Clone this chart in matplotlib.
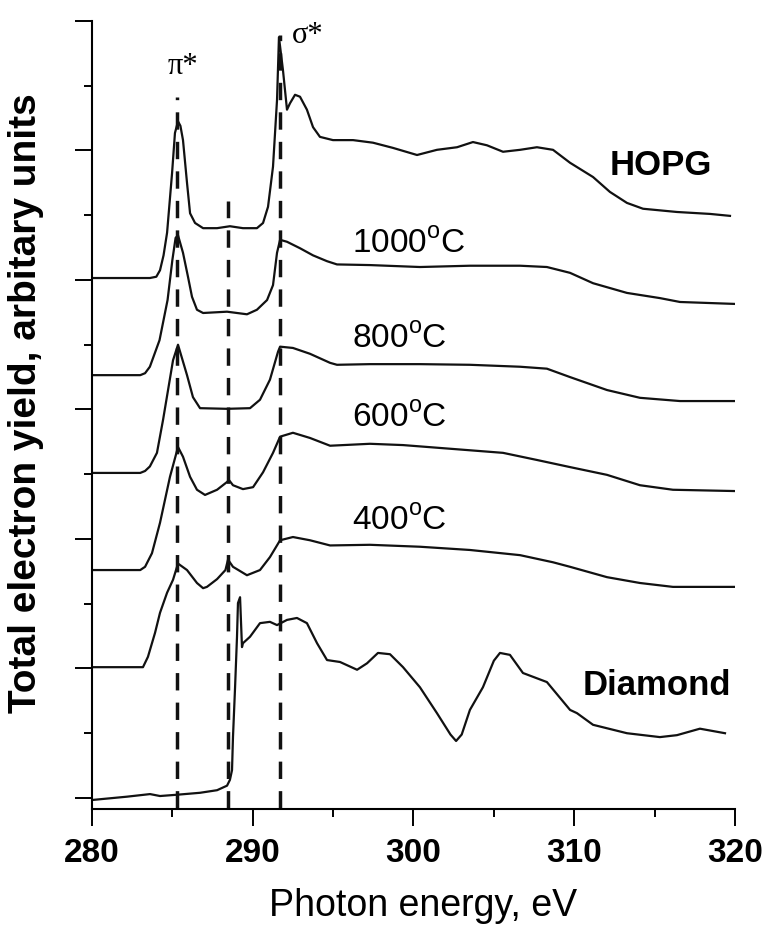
import numpy as np
import matplotlib
matplotlib.use("Agg")
import matplotlib.pyplot as plt
from matplotlib.ticker import MultipleLocator

plt.rcParams['font.family'] = ['Liberation Sans', 'DejaVu Sans']

# photon energy (eV) and offset intensity (arb. units)
hopg_e = [280.0, 283.6, 284.0, 284.23, 284.45, 284.67, 284.98, 285.16, 285.35, 285.5,
          285.66, 285.91, 286.10, 286.41, 286.91, 287.78, 288.58, 289.39, 290.26, 290.64,
          290.95, 291.26, 291.51, 291.63, 291.88, 292.13, 292.32, 292.63, 292.94, 293.37,
          293.75, 294.18, 294.99, 296.24, 297.48, 298.72, 300.22, 301.46, 302.71, 303.70,
          304.57, 305.57, 306.63, 307.68, 308.68, 309.74, 311.17, 312.22, 313.28, 314.28,
          316.39, 318.45, 319.69]
hopg_y = [8.03, 8.03, 8.05, 8.15, 8.38, 8.73, 9.65, 10.27, 10.45, 10.38,
          10.16, 9.50, 9.03, 8.88, 8.80, 8.80, 8.83, 8.80, 8.80, 8.88,
          9.13, 9.75, 10.78, 11.75, 11.24, 10.63, 10.73, 10.86, 10.83, 10.63,
          10.36, 10.21, 10.16, 10.16, 10.12, 10.04, 9.93, 10.01, 10.05, 10.13,
          10.08, 9.98, 10.01, 10.05, 10.01, 9.81, 9.59, 9.36, 9.19, 9.10,
          9.05, 9.02, 8.99]

t1000_e = [280.0, 283.0, 283.3, 283.6, 284.2, 284.7, 285.0, 285.2, 285.35, 285.66,
           285.97, 286.22, 286.53, 286.91, 288.40, 289.64, 290.26, 290.89, 291.26, 291.51,
           291.70, 292.13, 292.94, 293.75, 294.62, 295.24, 297.29, 300.40, 303.51, 306.63,
           308.30, 309.74, 311.17, 313.28, 315.33, 316.58, 320.0]
t1000_y = [6.53, 6.53, 6.56, 6.66, 7.07, 7.69, 8.31, 8.65, 8.69, 8.42,
           8.05, 7.74, 7.54, 7.49, 7.51, 7.47, 7.54, 7.69, 7.92, 8.42,
           8.62, 8.59, 8.49, 8.38, 8.29, 8.24, 8.23, 8.20, 8.22, 8.22,
           8.20, 8.11, 7.95, 7.80, 7.72, 7.66, 7.63]

t800_e = [280.0, 283.0, 283.3, 283.6, 284.04, 284.42, 284.73, 285.04, 285.35, 285.91,
          286.28, 286.72, 288.40, 289.83, 290.45, 291.07, 291.57, 291.70, 292.50, 293.56,
          294.81, 295.24, 297.29, 300.40, 303.51, 306.63, 308.30, 309.74, 312.04, 314.09,
          316.58, 320.0]
t800_y = [5.02, 5.02, 5.05, 5.12, 5.33, 5.84, 6.30, 6.76, 7.00, 6.53,
          6.19, 6.02, 6.01, 6.02, 6.15, 6.46, 6.89, 6.97, 6.95, 6.86,
          6.72, 6.69, 6.70, 6.70, 6.69, 6.66, 6.63, 6.50, 6.30, 6.18,
          6.13, 6.13]

t600_e = [280.0, 283.0, 283.3, 283.73, 284.23, 284.85, 285.35, 285.66, 286.10, 286.53,
          287.03, 287.78, 288.40, 288.52, 288.77, 289.39, 290.02, 290.64, 291.26, 291.70,
          292.50, 293.56, 294.81, 297.29, 299.35, 302.46, 305.57, 307.68, 309.74, 312.04,
          314.09, 316.14, 320.0]
t600_y = [3.52, 3.52, 3.57, 3.78, 4.25, 4.96, 5.42, 5.27, 4.96, 4.76,
          4.68, 4.76, 4.88, 4.91, 4.83, 4.77, 4.80, 5.03, 5.33, 5.58,
          5.64, 5.56, 5.44, 5.47, 5.45, 5.39, 5.33, 5.22, 5.11, 4.99,
          4.83, 4.76, 4.74]

t400_e = [280.0, 283.17, 283.48, 283.92, 284.23, 284.67, 285.04, 285.35, 285.91, 286.53,
          286.91, 287.15, 287.78, 288.30, 288.46, 288.77, 289.64, 290.45, 291.07, 291.70,
          292.50, 293.56, 294.81, 297.29, 300.40, 303.51, 306.63, 308.68, 309.74, 312.04,
          314.09, 316.14, 320.0]
t400_y = [2.02, 2.02, 2.18, 2.55, 2.86, 3.17, 3.37, 3.62, 3.52, 3.32,
          3.24, 3.26, 3.38, 3.52, 3.68, 3.57, 3.44, 3.52, 3.72, 3.98,
          4.03, 3.98, 3.90, 3.91, 3.88, 3.83, 3.75, 3.64, 3.57, 3.41,
          3.32, 3.26, 3.26]

diam_e = [280.06, 282.18, 283.61, 284.23, 285.29, 286.72, 287.78, 288.40, 288.58, 288.71,
          288.77, 288.90, 289.02, 289.08, 289.21, 289.33, 289.39, 289.83, 290.45, 291.07,
          291.51, 292.13, 292.75, 293.37, 294.00, 294.62, 295.43, 296.49, 297.11, 297.79,
          298.54, 299.35, 300.40, 301.46, 302.30, 302.65, 303.00, 303.51, 304.32, 305.0,
          305.38, 306.00, 306.81, 308.30, 309.74, 310.17, 311.17, 313.28, 315.33, 316.39,
          317.82, 319.38]
diam_y = [-0.03, 0.02, 0.06, 0.03, 0.05, 0.08, 0.12, 0.19, 0.28, 0.43,
          0.94, 1.71, 2.49, 3.01, 3.10, 2.33, 2.39, 2.49, 2.70, 2.72,
          2.67, 2.75, 2.78, 2.70, 2.39, 2.13, 2.10, 1.98, 2.08, 2.24,
          2.22, 2.02, 1.71, 1.31, 0.98, 0.88, 0.98, 1.36, 1.71, 2.12,
          2.24, 2.21, 1.93, 1.79, 1.36, 1.31, 1.13, 1.00, 0.94, 0.97,
          1.07, 1.00]

# resonance positions: pi*, carboxyl, sigma*
res_e = [285.3, 288.45, 291.7]
res_top = [10.83, 9.22, 11.78]

labels = ['HOPG', '1000$^\\mathregular{o}$C', '800$^\\mathregular{o}$C',
          '600$^\\mathregular{o}$C', '400$^\\mathregular{o}$C', 'Diamond']
label_e = [312.22, 296.17, 296.17, 296.17, 296.17, 310.54]
label_y = [9.62, 8.43, 6.95, 5.73, 4.14, 1.59]
label_bold = [True, False, False, False, False, True]

fig = plt.figure(figsize=(7.7, 9.32), dpi=100)
ax = fig.add_axes([0.1195, 0.132, 0.835, 0.8455])

for e, y in [(hopg_e, hopg_y), (t1000_e, t1000_y), (t800_e, t800_y),
             (t600_e, t600_y), (t400_e, t400_y), (diam_e, diam_y)]:
    ax.plot(e, y, color='#111111', lw=1.6, solid_joinstyle='round')

for e, top in zip(res_e, res_top):
    ax.plot([e, e], [-0.15, top], color='#111111', lw=2.5, dashes=(5, 3.5))

for txt, e, y, b in zip(labels, label_e, label_y, label_bold):
    ax.text(e, y, txt, fontsize=25 if b else 24, fontweight='bold' if b else 'normal',
            ha='left', va='baseline')

ax.text(285.66, 11.29, 'π*', fontsize=22, family=['Liberation Serif', 'DejaVu Serif'],
        ha='center', va='center')
ax.text(293.4, 11.78, 'σ*', fontsize=22, family=['Liberation Serif', 'DejaVu Serif'],
        ha='center', va='center')

ax.set_xlim(280, 320)
ax.set_ylim(-0.17, 12)
ax.xaxis.set_major_locator(MultipleLocator(10))
ax.xaxis.set_minor_locator(MultipleLocator(5))
ax.yaxis.set_major_locator(MultipleLocator(2))
ax.yaxis.set_minor_locator(MultipleLocator(1))
ax.set_yticklabels([])
ax.tick_params(which='major', length=12, width=1.4, direction='out')
ax.tick_params(which='minor', length=6, width=1.4, direction='out')
ax.tick_params(axis='x', labelsize=24, pad=9)
for lab in ax.get_xticklabels():
    lab.set_fontweight('bold')
for s in ['top', 'right']:
    ax.spines[s].set_visible(False)
for s in ['left', 'bottom']:
    ax.spines[s].set_linewidth(1.5)

ax.set_xlabel('Photon energy, eV', fontsize=27)
ax.set_ylabel('Total electron yield, arbitary units', fontsize=28, fontweight='bold')
ax.xaxis.set_label_coords(0.515, -0.1)
ax.yaxis.set_label_coords(-0.075, 0.515)

fig.savefig('out.png', dpi=100)
